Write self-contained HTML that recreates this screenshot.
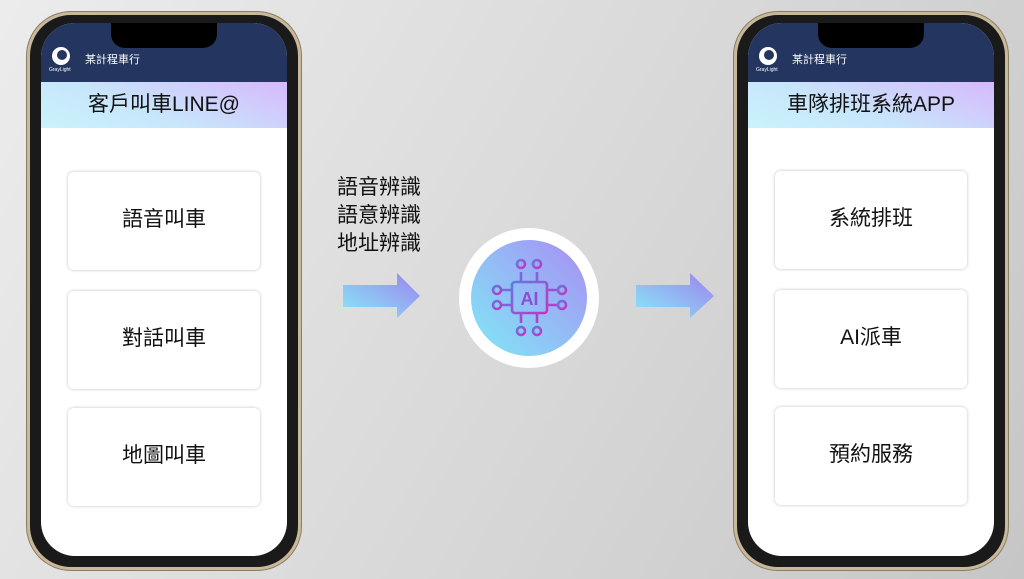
<!DOCTYPE html>
<html><head><meta charset="utf-8"><style>
*{margin:0;padding:0;box-sizing:border-box}
body{width:1024px;height:579px;overflow:hidden;background:linear-gradient(120deg,#ececec 0%,#d6d6d6 60%,#c6c6c6 100%);font-family:"Liberation Sans","Noto Sans CJK TC",sans-serif;position:relative}
.phone{position:absolute;top:12px;width:274px;height:558px;border-radius:44px;background:#1a1a1a;border:3px solid #c9b99a;box-shadow:0 0 0 1px #8a7d66}
.screen{position:absolute;left:11px;top:8px;right:11px;bottom:11px;border-radius:34px;overflow:hidden;background:#fff}
.hdr{position:absolute;left:0;right:0;top:0;height:59px;background:#243560}
.notch{position:absolute;left:70px;width:106px;top:-2px;height:27px;background:#000;border-radius:0 0 14px 14px}
.logo{position:absolute;left:11px;top:24px;width:18px;height:18px;border-radius:50%;background:#fff}
.logo:after{content:"";position:absolute;left:5px;top:3px;width:10px;height:10px;border-radius:50%;background:#243560}
.lt{position:absolute;left:8px;top:44px;font-size:5px;color:#fff}
.ttl{position:absolute;left:44px;top:28px;font-size:11px;color:#fff}
.ban{position:absolute;left:0;right:0;top:59px;height:46px;background:linear-gradient(200deg,#d7b8fb,#c7e6fb 60%,#c9f3fb);font-size:21px;text-align:center;line-height:46px;color:#111}
.card{position:absolute;width:192px;height:98px;background:#fff;border-radius:6px;box-shadow:0 0 3px rgba(0,0,0,.25);font-size:21px;text-align:center;line-height:96px;color:#111}
.txt{position:absolute;left:337px;top:174px;font-size:21px;line-height:28px;color:#111}
</style></head><body>
<div class="phone" style="left:27px">
<div class="screen"><div class="hdr"><div class="notch"></div><div class="logo"></div><div class="lt">GrayLight</div><div class="ttl">某計程車行</div></div>
<div class="ban">客戶叫車LINE@</div>
<div class="card" style="left:27px;top:149px">語音叫車</div>
<div class="card" style="left:27px;top:268px">對話叫車</div>
<div class="card" style="left:27px;top:385px">地圖叫車</div>
</div></div>
<div class="phone" style="left:734px">
<div class="screen"><div class="hdr"><div class="notch"></div><div class="logo"></div><div class="lt">GrayLight</div><div class="ttl">某計程車行</div></div>
<div class="ban">車隊排班系統APP</div>
<div class="card" style="left:27px;top:148px">系統排班</div>
<div class="card" style="left:27px;top:267px">AI派車</div>
<div class="card" style="left:27px;top:384px">預約服務</div>
</div></div>
<div class="txt">語音辨識<br>語意辨識<br>地址辨識</div>
<svg width="1024" height="579" style="position:absolute;left:0;top:0">
<defs>
<linearGradient id="ag" x1="0" y1="1" x2="1" y2="0"><stop offset="0" stop-color="#86eaf7"/><stop offset="1" stop-color="#9e82ee"/></linearGradient>
<linearGradient id="cg" x1="0" y1="1" x2="1" y2="0"><stop offset="0" stop-color="#7fe9f7"/><stop offset="1" stop-color="#a88ef4"/></linearGradient>
<linearGradient id="ig" x1="0" y1="0" x2="1" y2="1"><stop offset="0" stop-color="#5b7de0"/><stop offset="1" stop-color="#d02fc0"/></linearGradient>
</defs>
<polygon points="343,285 397,285 397,273 420,296 397,318 397,307 343,307" fill="url(#ag)"/>
<polygon points="636,285 690,285 690,273 714,296 690,318 690,307 636,307" fill="url(#ag)"/>
<circle cx="529" cy="298" r="70" fill="#fff"/>
<circle cx="529" cy="298" r="58" fill="url(#cg)"/>
<g stroke="url(#ig)" stroke-width="2.6" fill="none">
<rect x="512" y="282" width="35" height="31" rx="3"/>
<path d="M521 282v-10M537 282v-10M521 313v10M537 313v10M512 290h-10M512 305h-10M547 290h10M547 305h10"/>
<circle cx="521" cy="264" r="4"/><circle cx="537" cy="264" r="4"/>
<circle cx="521" cy="331" r="4"/><circle cx="537" cy="331" r="4"/>
<circle cx="497" cy="290" r="4"/><circle cx="497" cy="305" r="4"/>
<circle cx="562" cy="290" r="4"/><circle cx="562" cy="305" r="4"/>
</g>
<text x="529.5" y="305" text-anchor="middle" font-family="Liberation Sans" font-size="18" font-weight="bold" fill="#8a4fd6">AI</text>
</svg>
</body></html>
